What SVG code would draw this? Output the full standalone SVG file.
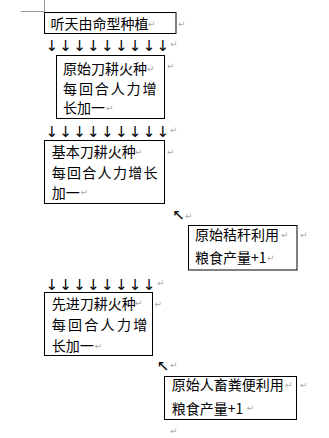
<svg xmlns="http://www.w3.org/2000/svg" width="329" height="438" viewBox="0 0 329 438">
<style>
.box{fill:#fff;stroke:#000;stroke-width:1}
.t{font-family:"Noto Sans CJK SC","Noto Sans",sans-serif;font-size:14px;fill:#000}
.ar{font-family:"DejaVu Sans",sans-serif;font-size:15px;fill:#000;text-anchor:middle}
.pm{font-family:"DejaVu Sans",sans-serif;font-size:9px;fill:#aaa}
.crop{stroke:#999;stroke-width:1;fill:none}
</style>
<rect width="329" height="438" fill="#fff"/>
<path class="crop" d="M44.5 0V11.5H21"/>
<g id="connectors">
<text class="ar" y="50.5" x="51.7 65.6 79.5 93.4 107.3 121.2 135.1 149 162.9">↓↓↓↓↓↓↓↓↓</text>
<text class="ar" y="136.5" x="51.7 65.6 79.5 93.4 107.3 121.2 135.1 149 162.9">↓↓↓↓↓↓↓↓↓</text>
<text class="ar" y="289.5" x="51.7 65.6 79.5 93.4 107.3 121.2 135.1 149">↓↓↓↓↓↓↓↓</text>
<text class="ar" x="178.5" y="219.5">↖</text>
<text class="ar" x="163" y="371">↖</text>
<text class="pm" x="170" y="47">↵</text>
<text class="pm" x="170" y="133">↵</text>
<text class="pm" x="157" y="286">↵</text>
<text class="pm" x="185" y="219">↵</text>
<text class="pm" x="170" y="368">↵</text>
<text class="pm" x="170" y="434">↵</text>
</g>
<g id="node1">
<rect class="box" x="44.5" y="12.5" width="131.5" height="21"/>
<text class="t" x="50.5" y="28.5">听天由命型种植</text>
<text class="pm" x="148" y="26.5">↵</text>
<text class="pm" x="178" y="26.5">↵</text>
</g>
<g id="node2">
<rect class="box" x="56.5" y="55.5" width="108" height="63"/>
<text class="t" x="63" y="74.3">原始刀耕火种</text>
<text class="t" x="63" y="93.8" letter-spacing="1.9">每回合人力增</text>
<text class="t" x="63" y="113.3">长加一</text>
<text class="pm" x="147" y="72">↵</text>
<text class="pm" x="106" y="111">↵</text>
<text class="pm" x="167" y="69">↵</text>
</g>
<g id="node3">
<rect class="box" x="44.5" y="140.5" width="120" height="63"/>
<text class="t" x="51.7" y="157">基本刀耕火种</text>
<text class="t" x="51.7" y="178" letter-spacing="1.3">每回合人力增长</text>
<text class="t" x="51.7" y="198">加一</text>
<text class="pm" x="135" y="155">↵</text>
<text class="pm" x="80.5" y="195">↵</text>
<text class="pm" x="167" y="155">↵</text>
</g>
<g id="node4">
<rect class="box" x="188.5" y="225.5" width="108.5" height="44.5"/>
<text class="t" x="195" y="240.3">原始秸秆利用</text>
<text class="t" x="195" y="263.3">粮食产量+1</text>
<text class="pm" x="281" y="238">↵</text>
<text class="pm" x="267" y="261">↵</text>
<text class="pm" x="300" y="238">↵</text>
</g>
<g id="node5">
<rect class="box" x="44.5" y="292.5" width="108" height="63"/>
<text class="t" x="51.7" y="308.8">先进刀耕火种</text>
<text class="t" x="51.7" y="330.3" letter-spacing="2.3">每回合人力增</text>
<text class="t" x="51.7" y="351.3">长加一</text>
<text class="pm" x="135" y="306">↵</text>
<text class="pm" x="94.5" y="349">↵</text>
<text class="pm" x="154.5" y="307">↵</text>
</g>
<g id="node6">
<rect class="box" x="164.5" y="376.5" width="132" height="43"/>
<text class="t" x="171.7" y="390.3">原始人畜粪便利用</text>
<text class="t" x="171.7" y="413.6">粮食产量+1</text>
<text class="pm" x="285" y="388">↵</text>
<text class="pm" x="246.5" y="411">↵</text>
<text class="pm" x="300" y="388">↵</text>
</g>
</svg>
